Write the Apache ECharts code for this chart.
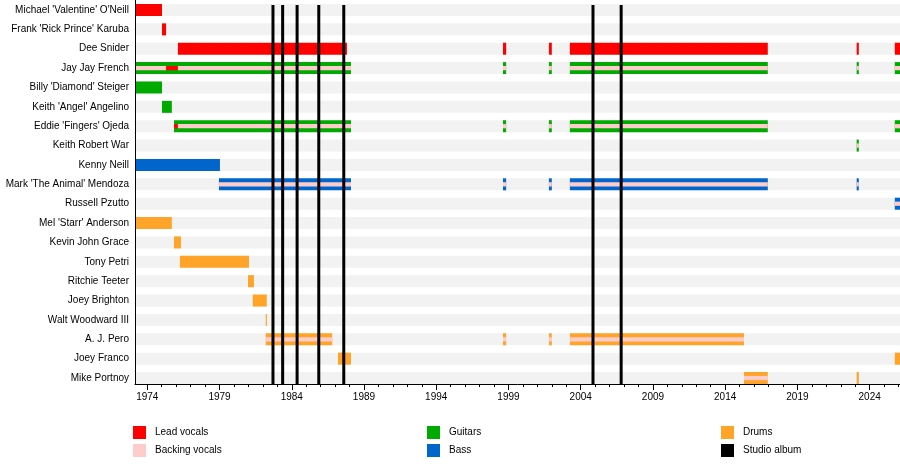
<!DOCTYPE html>
<html lang="en">
  <head>
    <meta charset="UTF-8" />
    <title>Twisted Sister members timeline</title>
    <style>
      * {
        margin: 0;
        padding: 0;
      }
      body {
        background: #fff;
      }
    </style>
  </head>
  <body>
    <div id="main" style="width: 900px; height: 464px"></div>

    <script src="https://cdn.jsdelivr.net/npm/echarts@6/dist/echarts.min.js"></script>
    <script>
      // members, top to bottom (row index = position in this list)
      var members = [
        "Michael 'Valentine' O'Neill",
        "Frank 'Rick Prince' Karuba",
        "Dee Snider",
        "Jay Jay French",
        "Billy 'Diamond' Steiger",
        "Keith 'Angel' Angelino",
        "Eddie 'Fingers' Ojeda",
        "Keith Robert War",
        "Kenny Neill",
        "Mark 'The Animal' Mendoza",
        "Russell Pzutto",
        "Mel 'Starr' Anderson",
        "Kevin John Grace",
        "Tony Petri",
        "Ritchie Teeter",
        "Joey Brighton",
        "Walt Woodward III",
        "A. J. Pero",
        "Joey Franco",
        "Mike Portnoy",
      ];

      // [from, till, row, stripe(1) or full bar(0)]
      var leadVocals = [
        [1973.15, 1975.02, 0, 0],
        [1975.02, 1975.3, 1, 0],
        [1976.12, 1987.82, 2, 0],
        [1998.62, 1998.84, 2, 0],
        [2001.8, 2002.0, 2, 0],
        [2003.25, 2016.95, 2, 0],
        [2023.1, 2023.25, 2, 0],
        [2025.74, 2026.1, 2, 0],
        [1975.3, 1976.12, 3, 1],
        [1975.85, 1976.12, 6, 1],
      ];
      // backing vocals are always drawn as a thin stripe
      var backingVocals = [
        [1973.15, 1975.3, 3],
        [1976.12, 1988.1, 3],
        [1998.62, 1998.84, 3],
        [2001.8, 2002.0, 3],
        [2003.25, 2016.95, 3],
        [2023.1, 2023.25, 3],
        [2025.74, 2026.1, 3],
        [1976.12, 1988.1, 6],
        [1998.62, 1998.84, 6],
        [2001.8, 2002.0, 6],
        [2003.25, 2016.95, 6],
        [2025.74, 2026.1, 6],
        [2023.1, 2023.25, 7],
        [1978.96, 1988.1, 9],
        [1998.62, 1998.84, 9],
        [2001.8, 2002.0, 9],
        [2003.25, 2016.95, 9],
        [2023.1, 2023.25, 9],
        [2025.74, 2026.1, 10],
        [1982.2, 1986.8, 17],
        [1998.62, 1998.84, 17],
        [2001.8, 2002.0, 17],
        [2003.25, 2015.3, 17],
        [2015.3, 2016.95, 19],
      ];
      var guitars = [
        [1973.15, 1988.1, 3],
        [1998.62, 1998.84, 3],
        [2001.8, 2002.0, 3],
        [2003.25, 2016.95, 3],
        [2023.1, 2023.25, 3],
        [2025.74, 2026.1, 3],
        [1973.15, 1975.02, 4],
        [1975.02, 1975.7, 5],
        [1975.85, 1988.1, 6],
        [1998.62, 1998.84, 6],
        [2001.8, 2002.0, 6],
        [2003.25, 2016.95, 6],
        [2025.74, 2026.1, 6],
        [2023.1, 2023.25, 7],
      ];
      var bass = [
        [1973.15, 1979.03, 8],
        [1978.96, 1988.1, 9],
        [1998.62, 1998.84, 9],
        [2001.8, 2002.0, 9],
        [2003.25, 2016.95, 9],
        [2023.1, 2023.25, 9],
        [2025.74, 2026.1, 10],
      ];
      var drums = [
        [1973.15, 1975.7, 11],
        [1975.85, 1976.33, 12],
        [1976.26, 1981.04, 13],
        [1980.97, 1981.38, 14],
        [1981.3, 1982.27, 15],
        [1982.2, 1982.28, 16],
        [1982.2, 1986.8, 17],
        [1998.62, 1998.84, 17],
        [2001.8, 2002.0, 17],
        [2003.25, 2015.3, 17],
        [1987.2, 1988.1, 18],
        [2025.74, 2026.1, 18],
        [2015.3, 2016.95, 19],
        [2023.1, 2023.25, 19],
      ];
      var studioAlbums = [1982.7, 1983.37, 1984.37, 1985.87, 1987.6, 2004.85, 2006.8];
      var yearLabels = [1974, 1979, 1984, 1989, 1994, 1999, 2004, 2009, 2014, 2019, 2024];

      var X_MIN = 1973.15;
      var X_MAX = 2026.1;
      var Y_MIN = -0.516;
      var Y_MAX = 19.308;

      var allYears = [];
      for (var y = 1974; y <= 2026; y++) allYears.push(y);

      // one bar or stripe per data item
      function barRender(stripeAlways) {
        return function (params, api) {
          var a = api.coord([api.value(0), api.value(2)]);
          var b = api.coord([api.value(1), api.value(2)]);
          var band = api.size([0, 1])[1];
          var stripe = stripeAlways || api.value(3) === 1;
          var h = band * (stripe ? 0.22 : 0.62);
          return {
            type: "rect",
            shape: { x: a[0], y: a[1] - h / 2, width: Math.max(b[0] - a[0], 1), height: h },
            style: { fill: api.visual("color") },
          };
        };
      }

      function barSeries(name, color, data, stripeAlways) {
        return {
          name: name,
          type: "custom",
          renderItem: barRender(stripeAlways),
          itemStyle: { color: color },
          encode: { x: [0, 1], y: 2 },
          clip: true,
          silent: true,
          data: data,
        };
      }

      var myChart = echarts.init(document.getElementById("main"));
      var legendText = {
        fontSize: 10,
        color: "#000",
        fontFamily: "Liberation Sans",
        padding: [0, 0, 0, 4],
      };
      function legendAt(left, names) {
        return {
          orient: "vertical",
          left: left,
          top: 426,
          padding: 0,
          itemWidth: 13,
          itemHeight: 13,
          itemGap: 5,
          icon: "rect",
          textStyle: legendText,
          selectedMode: false,
          data: names,
        };
      }

      var gridBox = { left: 135, right: 0, top: 0, height: 384 };

      var option = {
        backgroundColor: "#fff",
        animation: false,
        textStyle: { fontFamily: "Liberation Sans" },
        // second grid sits exactly on the first one, only for the long 5-year ticks
        grid: [Object.assign({}, gridBox), Object.assign({}, gridBox)],
        legend: [
          legendAt(133, ["Lead vocals", "Backing vocals"]),
          legendAt(427, ["Guitars", "Bass"]),
          legendAt(721, ["Drums", "Studio album"]),
        ],
        xAxis: [
          {
            type: "value",
            gridIndex: 0,
            position: "bottom",
            min: X_MIN,
            max: X_MAX,
            z: 10,
            axisLine: { onZero: false, lineStyle: { color: "#000", width: 1 } },
            axisTick: { customValues: allYears, length: 3, lineStyle: { color: "#000" } },
            axisLabel: {
              customValues: yearLabels,
              fontSize: 10,
              color: "#000",
              margin: 8,
              formatter: function (v) {
                return String(v);
              },
            },
            splitLine: { show: false },
          },
          {
            type: "value",
            gridIndex: 1,
            position: "bottom",
            min: X_MIN,
            max: X_MAX,
            z: 10,
            axisLine: { show: false, onZero: false },
            axisTick: { customValues: yearLabels, length: 6, lineStyle: { color: "#000" } },
            axisLabel: { show: false },
            splitLine: { show: false },
          },
        ],
        yAxis: [
          {
            type: "value",
            gridIndex: 0,
            inverse: true,
            min: Y_MIN,
            max: Y_MAX,
            z: 10,
            axisLine: { show: true, onZero: false, lineStyle: { color: "#000", width: 1 } },
            axisTick: { show: false },
            splitLine: { show: false },
            axisLabel: {
              customValues: members.map(function (m, i) {
                return i;
              }),
              formatter: function (v) {
                return members[v];
              },
              fontSize: 10,
              color: "#000",
              margin: 6,
            },
          },
          {
            type: "value",
            gridIndex: 1,
            show: false,
            min: Y_MIN,
            max: Y_MAX,
            axisLine: { onZero: false },
          },
        ],
        series: [
          // light gray row bands behind everything
          {
            type: "custom",
            silent: true,
            renderItem: barRender(false),
            itemStyle: { color: "#f2f2f2" },
            encode: { x: [0, 1], y: 2 },
            data: members.map(function (m, i) {
              return [X_MIN, X_MAX, i, 0];
            }),
          },
          barSeries("Guitars", "#00aa00", guitars, false),
          barSeries("Bass", "#0066cc", bass, false),
          barSeries("Drums", "#ffa329", drums, false),
          barSeries("Lead vocals", "#ff0000", leadVocals, false),
          barSeries("Backing vocals", "#ffcccc", backingVocals, true),
          {
            name: "Studio album",
            type: "custom",
            silent: true,
            itemStyle: { color: "#000" },
            encode: { x: 0 },
            renderItem: function (params, api) {
              var top = api.coord([api.value(0), -0.26]);
              var bottom = api.coord([api.value(0), Y_MAX]);
              return {
                type: "line",
                shape: { x1: top[0], y1: top[1], x2: bottom[0], y2: bottom[1] },
                style: { stroke: "#000", lineWidth: 3 },
              };
            },
            data: studioAlbums.map(function (d) {
              return [d];
            }),
          },
        ],
      };
      myChart.setOption(option);
    </script>
  </body>
</html>
